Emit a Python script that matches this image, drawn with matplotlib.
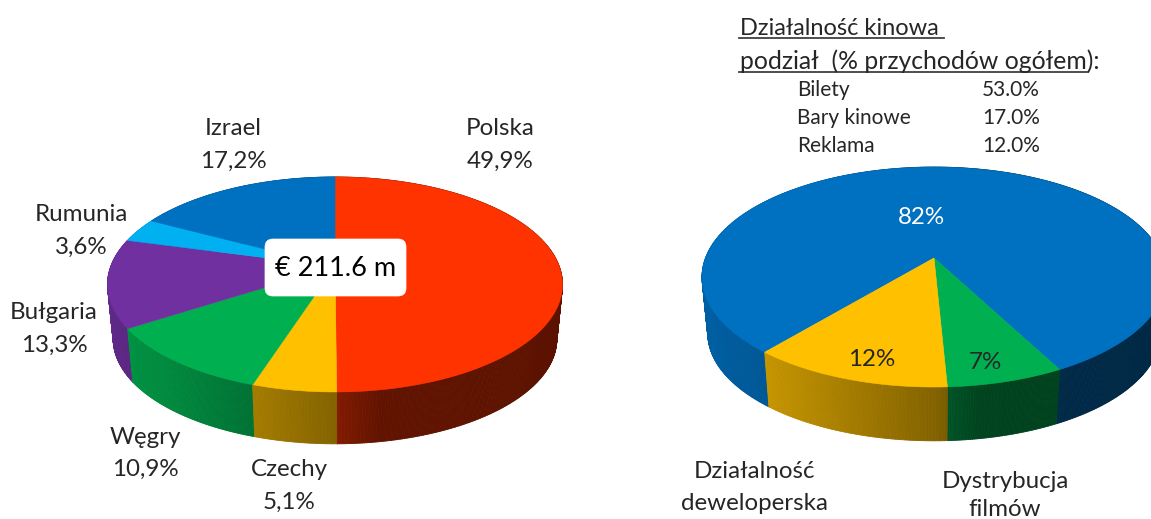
"""
Two 3D-looking pies: revenue by country and revenue split by activity.
"""
import numpy as np
from matplotlib import pyplot as plt
from matplotlib.collections import PolyCollection
from matplotlib.colors import to_rgb
from matplotlib.patches import FancyBboxPatch, Polygon

plt.rcParams["font.family"] = ["Lato", "DejaVu Sans"]

# left pie, clockwise from the top
countries = ["Polska", "Czechy", "Węgry", "Bułgaria", "Rumunia", "Izrael"]
country_share = [49.9, 5.1, 10.9, 13.3, 3.6, 17.2]
country_colors = ["#ff3300", "#ffc000", "#00b050", "#7030a0", "#00b0f0", "#0070c0"]
total_label = "€ 211.6 m"

# right pie, clockwise from the edge of the big slice
activity_share = [82, 7, 12]
activity_colors = ["#0070c0", "#00b050", "#ffc000"]
activity_text = ["82%", "7%", "12%"]
activity_names = [["Działalność", "deweloperska"], ["Dystrybucja", "filmów"]]

# table above the right pie
cinema_items = ["Bilety", "Bary kinowe", "Reklama"]
cinema_share = [53.0, 17.0, 12.0]

TEXT = "#262626"
FS = 17.4


def shade(t):
    # side wall gets darker from left to right
    return np.interp(t, [0, 0.13, 0.5, 0.6, 1], [0.85, 0.78, 0.52, 0.38, 0.36])


def pie3d(ax, values, colors, cx, cy, rx, ry, persp, depth, start=0.0, squeeze=0.975):
    values = np.asarray(values, dtype=float)
    edges = start + np.concatenate([[0], np.cumsum(values) / values.sum() * 360])
    half_width = rx / np.sqrt(1 - persp**2)

    def project(deg):
        th = np.radians(deg)
        u, v = np.sin(th), -np.cos(th)
        w = 1 / (1 - persp * v)
        return cx + rx * u * w, cy + ry * v * w

    # walls first, back to front
    quads, faces, order = [], [], []
    for a, b, col in zip(edges[:-1], edges[1:], colors):
        base = np.array(to_rgb(col))
        th = np.arange(a, b, 0.5)
        th = np.append(th, b)
        x, y = project(th)
        xb = cx + (x - cx) * squeeze
        yb = cy + depth + (y - cy) * squeeze
        for i in range(len(th) - 1):
            quads.append([(x[i], y[i]), (x[i + 1], y[i + 1]), (xb[i + 1], yb[i + 1]), (xb[i], yb[i])])
            t = (x[i] - (cx - half_width)) / (2 * half_width)
            faces.append(base * shade(t))
            order.append(y[i])
    idx = np.argsort(order)
    ax.add_collection(PolyCollection([quads[i] for i in idx], facecolors=[faces[i] for i in idx],
                                     edgecolors=[faces[i] for i in idx], linewidths=0.6))

    # top face
    for a, b, col in zip(edges[:-1], edges[1:], colors):
        x, y = project(np.linspace(a, b, 200))
        pts = np.column_stack([np.r_[cx, x], np.r_[cy, y]])
        ax.add_patch(Polygon(pts, closed=True, facecolor=col, edgecolor=col, linewidth=0.4))


def pct(v):
    return f"{v:.1f}".replace(".", ",") + "%"


fig = plt.figure(figsize=(11.51, 5.19), dpi=100)
ax = fig.add_axes([0, 0, 1, 1])
ax.set_xlim(0, 1151)
ax.set_ylim(519, 0)
ax.axis("off")

pie3d(ax, country_share, country_colors, 335, 266.5, 224.3, 104.5, 0.167, 55)
pie3d(ax, activity_share, activity_colors, 934, 258, 228.5, 106.7, 0.173, 57, start=220.0)

# total in the middle of the left pie
ax.add_patch(FancyBboxPatch((265, 239), 141, 57, boxstyle="round,pad=0,rounding_size=8",
                            facecolor="white", edgecolor="white", linewidth=0.5, zorder=5))
ax.text(335.5, 269, total_label, fontsize=19.5, color="black", ha="center", va="center", zorder=6)

# country labels: x, name y, value y
country_pos = [(500, 128.5, 161.5), (289, 469.5, 502), (145, 437.5, 469.5),
               (54, 312.5, 345.5), (81, 214.5, 247.5), (233, 128.5, 161.5)]
for name, v, (x, y1, y2) in zip(countries, country_share, country_pos):
    ax.text(x, y1, name, fontsize=FS, color=TEXT, ha="center", va="center")
    ax.text(x, y2, pct(v), fontsize=FS, color=TEXT, ha="center", va="center")

# labels on the right pie
ax.text(921, 217.5, activity_text[0], fontsize=FS, color="white", ha="center", va="center")
ax.text(985, 362.5, activity_text[1], fontsize=FS, color=TEXT, ha="center", va="center")
ax.text(872, 359.5, activity_text[2], fontsize=FS, color=TEXT, ha="center", va="center")

name_pos = [(755, 471.5, 503), (1005, 481.5, 509)]
for lines, (x, y1, y2) in zip(activity_names, name_pos):
    ax.text(x, y1, lines[0], fontsize=FS, color=TEXT, ha="center", va="center")
    ax.text(x, y2, lines[1], fontsize=FS, color=TEXT, ha="center", va="center")

# heading and table
ax.text(740, 28.5, "Działalność kinowa", fontsize=17, color=TEXT, ha="left", va="center")
ax.text(740, 61, "podział  (% przychodów ogółem):", fontsize=17.8, color=TEXT, ha="left", va="center")
ax.plot([739, 944], [38, 38], color="#404040", lw=1.3)
ax.plot([739, 1088], [72, 72], color="#404040", lw=1.3)
for item, v, y in zip(cinema_items, cinema_share, [89.5, 117.5, 145.5]):
    ax.text(797, y, item, fontsize=15, color=TEXT, ha="left", va="center")
    ax.text(982, y, f"{v:.1f}%", fontsize=15, color=TEXT, ha="left", va="center")

plt.savefig("out.png", dpi=100)
